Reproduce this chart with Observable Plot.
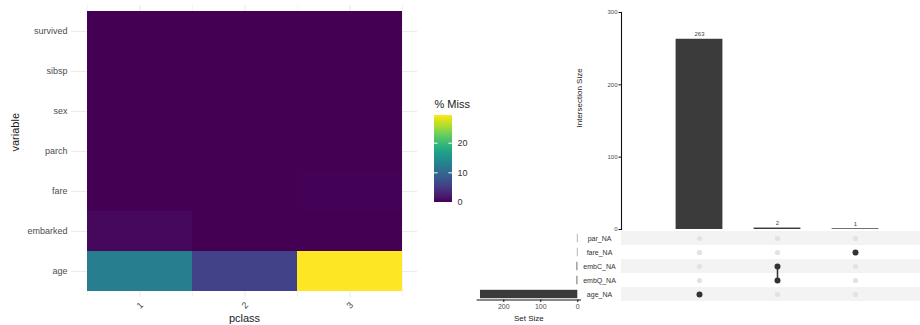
<!DOCTYPE html>
<html>
<head>
<meta charset="utf-8">
<script src="https://cdn.jsdelivr.net/npm/d3@7"></script>
<script src="https://cdn.jsdelivr.net/npm/@observablehq/plot@0.6"></script>
<style>
  html, body { margin: 0; padding: 0; background: #fff; }
  #chart { position: relative; width: 920px; height: 325px; overflow: hidden; }
  #chart svg { position: absolute; left: 0; top: 0; }
</style>
</head>
<body>
<div id="chart"></div>
<script>
// ---- Missingness by passenger class (percent of rows missing) ----
const pclasses = ["1", "2", "3"];
const variables = ["survived", "sibsp", "sex", "parch", "fare", "embarked", "age"]; // top to bottom
const missSurvived = [0, 0, 0];
const missSibsp = [0, 0, 0];
const missSex = [0, 0, 0];
const missParch = [0, 0, 0];
const missFare = [0, 0, 0.14];
const missEmbarked = [0.62, 0, 0];
const missAge = [12.4, 5.78, 29.34];
const legendTicks = [0, 10, 20];

// ---- UpSet: missing-value indicator sets ----
const setNames = ["par_NA", "fare_NA", "embC_NA", "embQ_NA", "age_NA"]; // top to bottom
const setSizes = [1, 1, 2, 2, 263];
const intersectionIds = ["age", "emb", "fare"];
const intersectionSizes = [263, 2, 1];
const intersectionMembers = [["age_NA"], ["embC_NA", "embQ_NA"], ["fare_NA"]];
const sizeTicks = [0, 100, 200, 300];
const setSizeTicks = [0, 100, 200];

const W = 920, H = 325;
const FONT = "'Liberation Sans', Arial, Helvetica, sans-serif";
const baseStyle = {background: "transparent", fontFamily: FONT, overflow: "visible"};
const grey30 = "#4d4d4d";
const gridCol = "#ebebeb";
const barCol = "#3b3b3b";

const byVar = {
  survived: missSurvived, sibsp: missSibsp, sex: missSex, parch: missParch,
  fare: missFare, embarked: missEmbarked, age: missAge
};
const cells = variables.flatMap(v => pclasses.map((p, i) => ({variable: v, pclass: p, pct: byVar[v][i]})));
const maxMiss = d3.max(cells, d => d.pct);
const colorOpts = {type: "linear", scheme: "viridis", domain: [0, maxMiss]};

const chart = document.getElementById("chart");

// ---- Heatmap ----
const hmLeft = 71, hmRight = 417, hmTop = 5, hmBottom = 297;
const insL = 16, insR = 15;
const bw = (hmRight - hmLeft - insL - insR) / pclasses.length;
const heat = Plot.plot({
  width: W, height: H,
  marginLeft: hmLeft, marginRight: W - hmRight, marginTop: hmTop, marginBottom: H - hmBottom,
  style: baseStyle,
  x: {domain: pclasses, padding: 0, insetLeft: insL, insetRight: insR, axis: null},
  y: {domain: variables, padding: 0, insetTop: 5, insetBottom: 5, axis: null},
  color: colorOpts,
  marks: [
    Plot.gridX(pclasses, {stroke: gridCol, strokeOpacity: 1, strokeWidth: 0.6, dx: -bw / 2}),
    Plot.gridX(pclasses.slice(-1), {stroke: gridCol, strokeOpacity: 1, strokeWidth: 0.6, dx: bw / 2}),
    Plot.gridX(pclasses, {stroke: gridCol, strokeOpacity: 1, strokeWidth: 1.1}),
    Plot.gridY(variables, {stroke: gridCol, strokeOpacity: 1, strokeWidth: 1.1}),
    Plot.cell(cells, {x: "pclass", y: "variable", fill: "pct"}),
    Plot.text(variables, {y: d => d, frameAnchor: "left", dx: -4, textAnchor: "end", lineAnchor: "middle", fontSize: 9, fill: grey30}),
    Plot.text(pclasses, {x: d => d, frameAnchor: "bottom", dy: 8, rotate: -45, textAnchor: "middle", lineAnchor: "middle", fontSize: 9, fill: grey30}),
    Plot.text(["variable"], {frameAnchor: "left", dx: -56, rotate: -90, lineAnchor: "middle", fontSize: 11, fill: "#1a1a1a"}),
    Plot.text(["pclass"], {frameAnchor: "bottom", dy: 21, lineAnchor: "middle", fontSize: 11, fill: "#1a1a1a"})
  ]
});
chart.appendChild(heat);

// ---- Colour bar legend ----
const nSteps = 87;
const stepSize = maxMiss / nSteps;
const legendSteps = d3.range(nSteps).map(i => i * stepSize);
const legend = Plot.plot({
  width: W, height: H,
  marginLeft: 434, marginRight: W - 452, marginTop: 115, marginBottom: H - 202,
  style: baseStyle,
  x: {domain: [0, 1], axis: null},
  y: {domain: [0, maxMiss], axis: null},
  color: colorOpts,
  marks: [
    Plot.rect(legendSteps, {x1: 0, x2: 1, y1: d => d, y2: d => Math.min(maxMiss, d + stepSize * 2), fill: d => d + stepSize / 2, shapeRendering: "crispEdges"}),
    Plot.ruleY(legendTicks, {x1: 0, x2: 0.2, stroke: "white", strokeWidth: 1}),
    Plot.ruleY(legendTicks, {x1: 0.8, x2: 1, stroke: "white", strokeWidth: 1}),
    Plot.text(legendTicks, {y: d => d, frameAnchor: "right", dx: 5, textAnchor: "start", lineAnchor: "middle", fontSize: 9, fill: "#333"}),
    Plot.text(["% Miss"], {frameAnchor: "top-left", dy: -11, textAnchor: "start", lineAnchor: "middle", fontSize: 11, fill: "#1a1a1a"})
  ]
});
chart.appendChild(legend);

// ---- UpSet: intersection size bars ----
const inter = intersectionIds.map((id, i) => ({id, size: intersectionSizes[i]}));
const colRange = [660, 894];
const upBars = Plot.plot({
  width: W, height: H,
  marginLeft: 621, marginRight: 0, marginTop: 12, marginBottom: H - 229,
  style: baseStyle,
  x: {type: "band", domain: intersectionIds, range: colRange, padding: 0, axis: null},
  y: {domain: [0, 300], range: [229, 12], axis: null},
  marks: [
    Plot.barY(inter, {x: "id", y: "size", fill: barCol, insetLeft: 15.6, insetRight: 15.6}),
    Plot.text(inter, {x: "id", y: "size", text: d => String(d.size), dy: -5, lineAnchor: "middle", fontSize: 6, fill: "#444"}),
    Plot.frame({anchor: "left", stroke: "#111", strokeWidth: 1.1}),
    Plot.axisY({ticks: sizeTicks, tickSize: 2.5, tickPadding: 1.5, fontSize: 6, stroke: "#111", fill: grey30, label: null}),
    Plot.text(["Intersection Size"], {frameAnchor: "left", dx: -42, dy: 6.5, rotate: -90, lineAnchor: "middle", fontSize: 8, fill: "#222"})
  ]
});
chart.appendChild(upBars);

// ---- UpSet: membership matrix ----
const rowRange = [230.7, 300.7];
const allPairs = intersectionIds.flatMap(id => setNames.map(set => ({id, set})));
const members = intersectionIds.flatMap((id, i) => intersectionMembers[i].map(set => ({id, set})));
const stripes = setNames.filter((d, i) => i % 2 === 0);
const matrix = Plot.plot({
  width: W, height: H,
  marginLeft: 621, marginRight: 0, marginTop: rowRange[0], marginBottom: H - rowRange[1],
  style: baseStyle,
  x: {type: "band", domain: intersectionIds, range: colRange, padding: 0, axis: null},
  y: {type: "band", domain: setNames, range: rowRange, padding: 0, axis: null},
  marks: [
    Plot.cell(stripes, {y: d => d, fill: "#f3f3f3"}),
    Plot.dot(allPairs, {x: "id", y: "set", r: 2.6, fill: "#e2e2e2"}),
    Plot.line(members, {x: "id", y: "set", z: "id", stroke: "#333", strokeWidth: 1.5}),
    Plot.dot(members, {x: "id", y: "set", r: 3, fill: "#333"}),
    Plot.text(setNames, {y: d => d, frameAnchor: "left", dx: -22, textAnchor: "middle", lineAnchor: "middle", fontSize: 7, fill: "#333"})
  ]
});
chart.appendChild(matrix);

// ---- UpSet: set size bars ----
const setData = setNames.map((set, i) => ({set, size: setSizes[i]}));
const setPlot = Plot.plot({
  width: W, height: H,
  marginLeft: 476.7, marginRight: W - 580, marginTop: rowRange[0], marginBottom: H - 299.5,
  style: baseStyle,
  x: {domain: [0, 300], range: [577.3, 466.3], axis: null},
  y: {type: "band", domain: setNames, range: rowRange, padding: 0, axis: null},
  marks: [
    Plot.barX(setData, {y: "set", x: "size", fill: barCol, insetTop: 2.8, insetBottom: 2.8}),
    Plot.frame({anchor: "bottom", stroke: "#111", strokeWidth: 1.1}),
    Plot.axisX({ticks: setSizeTicks, tickSize: 2.5, tickPadding: 2, fontSize: 7, stroke: "#111", fill: grey30, label: null}),
    Plot.text(["Set Size"], {frameAnchor: "bottom", dy: 18.5, lineAnchor: "middle", fontSize: 8, fill: "#222"})
  ]
});
chart.appendChild(setPlot);
</script>
</body>
</html>
